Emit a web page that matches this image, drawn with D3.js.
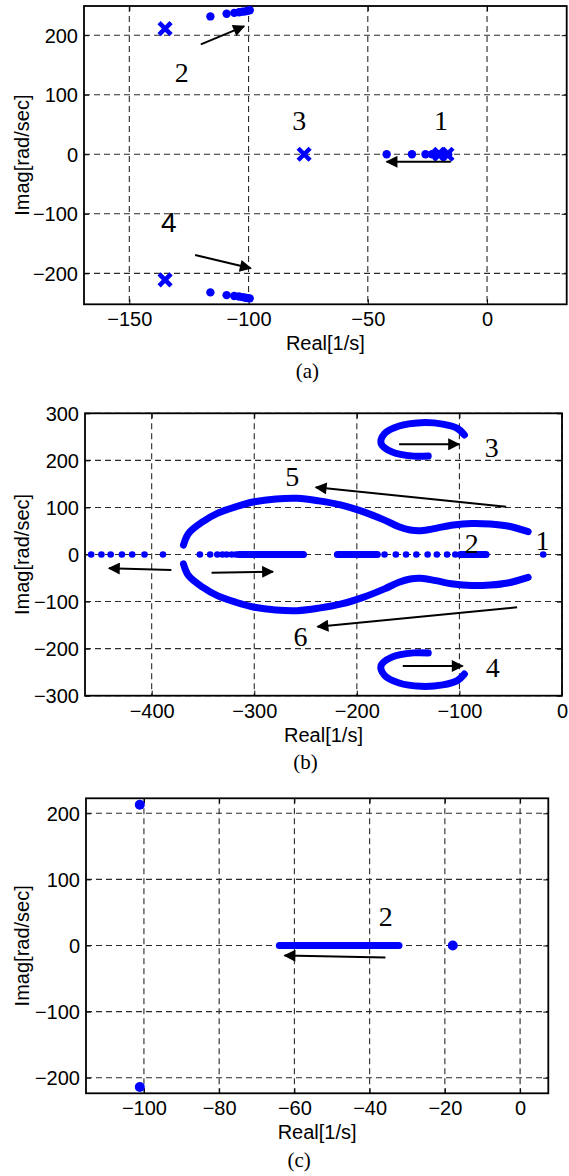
<!DOCTYPE html>
<html>
<head>
<meta charset="utf-8">
<script src="https://cdn.jsdelivr.net/npm/d3@7"></script>
<style>
  body { margin: 0; background: #fff; }
  svg { display: block; }
</style>
</head>
<body>
<div id="chart"></div>
<script>
// ---------- panel (a) data ----------
const aTicksX = [-150, -100, -50, 0];
const aTicksY = [-200, -100, 0, 100, 200];
const aPoleRe = [-135, -135, -76.7, -19.8, -16.8];
const aPoleIm = [211, -211, 0, 0, 0];
const aUpperRe = [-116, -109.2, -106, -104, -102.5, -101.3, -100.3, -99.5];
const aUpperIm = [231.5, 236, 237.5, 238.5, 239.5, 240, 241, 242];
const aLowerRe = [-116, -109.2, -106, -104, -102.5, -101.3, -100.3, -99.5];
const aLowerIm = [-232, -236.6, -238, -239, -240, -241, -241.6, -242];
const aAxisRe = [-42.1, -31.5, -25.8, -23.1, -20.1, -17.8, -16.3];

// ---------- panel (b) data ----------
const bTicksX = [-400, -300, -200, -100, 0];
const bTicksY = [-300, -200, -100, 0, 100, 200, 300];
const bAxisDotRe = [-459, -449, -440, -429, -419, -407, -389,
  -353, -343, -336, -331, -327, -322, -318,
  -173, -162, -152, -142, -131, -122, -112, -104, -18.3];
const bDenseStart = [-315, -219, -99];
const bDenseEnd = [-252, -180, -74];
const b5Re = [-369, -364, -350, -336, -318, -300, -279, -258, -237, -215, -194, -173, -159, -148, -137.5, -123, -106, -88, -70, -53, -33];
const b5Im = [20, 45, 70, 87.5, 101.5, 112, 118, 119.4, 114, 105, 91, 73, 59, 52, 50.6, 55.6, 62.7, 66, 64.8, 60.5, 48.5];
const b6Re = [-369, -364, -350, -336, -318, -300, -279, -258, -237, -215, -194, -173, -159, -148, -137.5, -123, -106, -88, -70, -53, -33];
const b6Im = [-20, -45, -70, -87.5, -101.5, -112, -118, -119.4, -114, -105, -91, -73, -59, -52, -50.6, -55.6, -62.7, -66, -64.8, -60.5, -48.5];
const b3Re = [-130.4, -144.6, -165.8, -176.4, -172.9, -158.8, -137.5, -116.3, -102.1, -95.1];
const b3Im = [209.3, 209, 218, 236, 257, 273, 280, 277, 268, 254];
const b4Re = [-130.4, -144.6, -165.8, -176.4, -172.9, -158.8, -137.5, -116.3, -102.1, -95.1];
const b4Im = [-209.3, -209, -218, -236, -257, -273, -280, -277, -268, -254];

// ---------- panel (c) data ----------
const cTicksX = [-100, -80, -60, -40, -20, 0];
const cTicksY = [-200, -100, 0, 100, 200];
const cDotRe = [-101.1, -101.1, -17.9];
const cDotIm = [212.9, -214, 0];
const cDenseStart = [-64];
const cDenseEnd = [-32.2];

// ---------- annotations (data units) ----------
const aArrows = [[-120, 184.6, -101.9, 214.9], [-15.2, -12.7, -42.1, -12.7], [-122.4, -169.3, -99.1, -191.6]];
const aLabels = [["2", -128, 138.4, "serif"], ["3", -78.7, 57.3, "serif"], ["1", -19.3, 57.3, "serif"], ["4", -133.4, -113.4, "sans"]];
const bArrows = [[-54.4, 101.5, -240, 142.8], [-380.8, -32.9, -441.6, -29.3], [-341.6, -38.7, -281.8, -36.5],
  [-43.8, -112.2, -238.3, -153.4], [-158.8, 234.1, -100.4, 234.1], [-155.2, -236.9, -96.9, -236.9]];
const bLabels = [["5", -263, 165.3, "serif"], ["3", -68.5, 229, "serif"], ["2", -88, 23.8, "serif"],
  ["1", -19, 30.8, "serif"], ["6", -255, -173.1, "serif"], ["4", -67.5, -238.4, "serif"]];
const cArrows = [[-35.8, -18.2, -62.6, -15.1]];
const cLabels = [["2", -35.7, 43.9, "serif"]];

const blue = "#0000ff";
const sans = "'Liberation Sans', Arial, sans-serif";
const serif = "'Liberation Serif', 'Times New Roman', serif";

const svg = d3.select("#chart").append("svg")
  .attr("width", 569)
  .attr("height", 1176);

svg.append("defs").append("marker")
  .attr("id", "head")
  .attr("viewBox", "0 0 10 10")
  .attr("refX", 9).attr("refY", 5)
  .attr("markerWidth", 7.2).attr("markerHeight", 6)
  .attr("markerUnits", "strokeWidth")
  .attr("orient", "auto")
  .append("path").attr("d", "M0,0 L10,5 L0,10 z").attr("fill", "#000");

function drawPanel(p) {
  const g = svg.append("g");
  const x = d3.scaleLinear().domain(p.xDomain).range([p.left, p.right]);
  const y = d3.scaleLinear().domain(p.yDomain).range([p.bottom, p.top]);

  // dashed grid
  g.selectAll(".gx").data(p.xTicks).enter().append("line")
    .attr("x1", d => x(d)).attr("x2", d => x(d))
    .attr("y1", p.top).attr("y2", p.bottom)
    .attr("stroke", "#2a2a2a").attr("stroke-width", 1.1).attr("stroke-dasharray", "6,4");
  g.selectAll(".gy").data(p.yTicks).enter().append("line")
    .attr("y1", d => y(d)).attr("y2", d => y(d))
    .attr("x1", p.left).attr("x2", p.right)
    .attr("stroke", "#2a2a2a").attr("stroke-width", 1.1).attr("stroke-dasharray", "6,4");

  // axes with inward ticks
  const xa = g.append("g").attr("transform", "translate(0," + p.bottom + ")")
    .call(d3.axisBottom(x).tickValues(p.xTicks).tickSizeInner(-5).tickSizeOuter(0).tickPadding(8).tickFormat(d3.format("d")));
  const xt = g.append("g").attr("transform", "translate(0," + p.top + ")")
    .call(d3.axisTop(x).tickValues(p.xTicks).tickSizeInner(-5).tickSizeOuter(0).tickFormat(""));
  const ya = g.append("g").attr("transform", "translate(" + p.left + ",0)")
    .call(d3.axisLeft(y).tickValues(p.yTicks).tickSizeInner(-5).tickSizeOuter(0).tickPadding(6).tickFormat(d3.format("d")));
  const yr = g.append("g").attr("transform", "translate(" + p.right + ",0)")
    .call(d3.axisRight(y).tickValues(p.yTicks).tickSizeInner(-5).tickSizeOuter(0).tickFormat(""));
  [xa, xt, ya, yr].forEach(a => {
    a.select(".domain").remove();
    a.selectAll("line").attr("stroke", "#000");
    a.selectAll("text").attr("font-family", sans).attr("font-size", 20).attr("fill", "#000");
  });
  ya.selectAll("text").attr("dy", "0.35em");

  // frame
  g.append("rect")
    .attr("x", p.left).attr("y", p.top)
    .attr("width", p.right - p.left).attr("height", p.bottom - p.top)
    .attr("fill", "none").attr("stroke", "#000").attr("stroke-width", 1.8);

  // axis titles
  g.append("text")
    .attr("x", (p.left + p.right) / 2).attr("y", p.bottom + 39)
    .attr("dy", "0.35em")
    .attr("text-anchor", "middle")
    .attr("font-family", sans).attr("font-size", 20)
    .text("Real[1/s]");
  g.append("text")
    .attr("transform", "translate(22," + ((p.top + p.bottom) / 2) + ") rotate(-90)")
    .attr("dy", "0.35em")
    .attr("text-anchor", "middle")
    .attr("font-family", sans).attr("font-size", 20)
    .text("Imag[rad/sec]");
  g.append("text")
    .attr("x", (p.left + p.right) / 2 - 18).attr("y", p.bottom + 66)
    .attr("dy", "0.35em")
    .attr("text-anchor", "middle")
    .attr("font-family", serif).attr("font-size", 21)
    .text(p.caption);

  const line = d3.line().x(d => x(d[0])).y(d => y(d[1])).curve(d3.curveCatmullRom);

  // thick dense loci
  (p.curves || []).forEach(c => {
    const pts = c.re.map((r, i) => [r, c.im[i]]);
    g.append("path").attr("d", line(pts))
      .attr("fill", "none").attr("stroke", blue)
      .attr("stroke-width", p.lw).attr("stroke-linecap", "round").attr("stroke-linejoin", "round");
  });
  (p.dense || []).forEach(s => {
    g.append("line")
      .attr("x1", x(s[0])).attr("x2", x(s[1]))
      .attr("y1", y(0)).attr("y2", y(0))
      .attr("stroke", blue).attr("stroke-width", p.lw).attr("stroke-linecap", "round");
  });

  // dots
  (p.dots || []).forEach(s => {
    g.selectAll(null).data(s.re.map((r, i) => [r, s.im[i]])).enter().append("circle")
      .attr("cx", d => x(d[0])).attr("cy", d => y(d[1]))
      .attr("r", s.r).attr("fill", blue);
  });

  // x markers
  if (p.poles) {
    const s = 6;
    g.selectAll(null).data(p.poles.re.map((r, i) => [r, p.poles.im[i]])).enter().append("path")
      .attr("transform", d => "translate(" + x(d[0]) + "," + y(d[1]) + ")")
      .attr("d", "M" + (-s) + "," + (-s) + "L" + s + "," + s + "M" + (-s) + "," + s + "L" + s + "," + (-s))
      .attr("stroke", blue).attr("stroke-width", 4.5).attr("fill", "none");
  }

  // arrows
  g.selectAll(null).data(p.arrows).enter().append("line")
    .attr("x1", d => x(d[0])).attr("y1", d => y(d[1]))
    .attr("x2", d => x(d[2])).attr("y2", d => y(d[3]))
    .attr("stroke", "#000").attr("stroke-width", 2)
    .attr("marker-end", "url(#head)");

  // curve labels
  g.selectAll(null).data(p.labels).enter().append("text")
    .attr("x", d => x(d[1])).attr("y", d => y(d[2]))
    .attr("dy", "0.35em")
    .attr("text-anchor", "middle")
    .attr("font-family", d => d[3] === "sans" ? sans : serif)
    .attr("font-size", 28)
    .text(d => d[0]);
}

drawPanel({
  left: 84, right: 566.7, top: 6, bottom: 304.3,
  xDomain: [-169, 33.4], yDomain: [-252, 249],
  xTicks: aTicksX, yTicks: aTicksY, caption: "(a)", lw: 8,
  dots: [
    { re: aUpperRe, im: aUpperIm, r: 4.2 },
    { re: aLowerRe, im: aLowerIm, r: 4.2 },
    { re: aAxisRe, im: aAxisRe.map(() => 0), r: 4.2 }
  ],
  poles: { re: aPoleRe, im: aPoleIm },
  arrows: aArrows, labels: aLabels
});

drawPanel({
  left: 85, right: 562, top: 413.3, bottom: 695.7,
  xDomain: [-465, 0], yDomain: [-300, 300],
  xTicks: bTicksX, yTicks: bTicksY, caption: "(b)", lw: 7,
  curves: [
    { re: b5Re, im: b5Im }, { re: b6Re, im: b6Im },
    { re: b3Re, im: b3Im }, { re: b4Re, im: b4Im }
  ],
  dense: bDenseStart.map((s, i) => [s, bDenseEnd[i]]),
  dots: [{ re: bAxisDotRe, im: bAxisDotRe.map(() => 0), r: 3.3 }],
  arrows: bArrows, labels: bLabels
});

drawPanel({
  left: 86, right: 548.3, top: 798.3, bottom: 1093.3,
  xDomain: [-115.4, 7.5], yDomain: [-223.6, 222.7],
  xTicks: cTicksX, yTicks: cTicksY, caption: "(c)", lw: 7,
  dense: cDenseStart.map((s, i) => [s, cDenseEnd[i]]),
  dots: [{ re: cDotRe, im: cDotIm, r: 5 }],
  arrows: cArrows, labels: cLabels
});
</script>
</body>
</html>
